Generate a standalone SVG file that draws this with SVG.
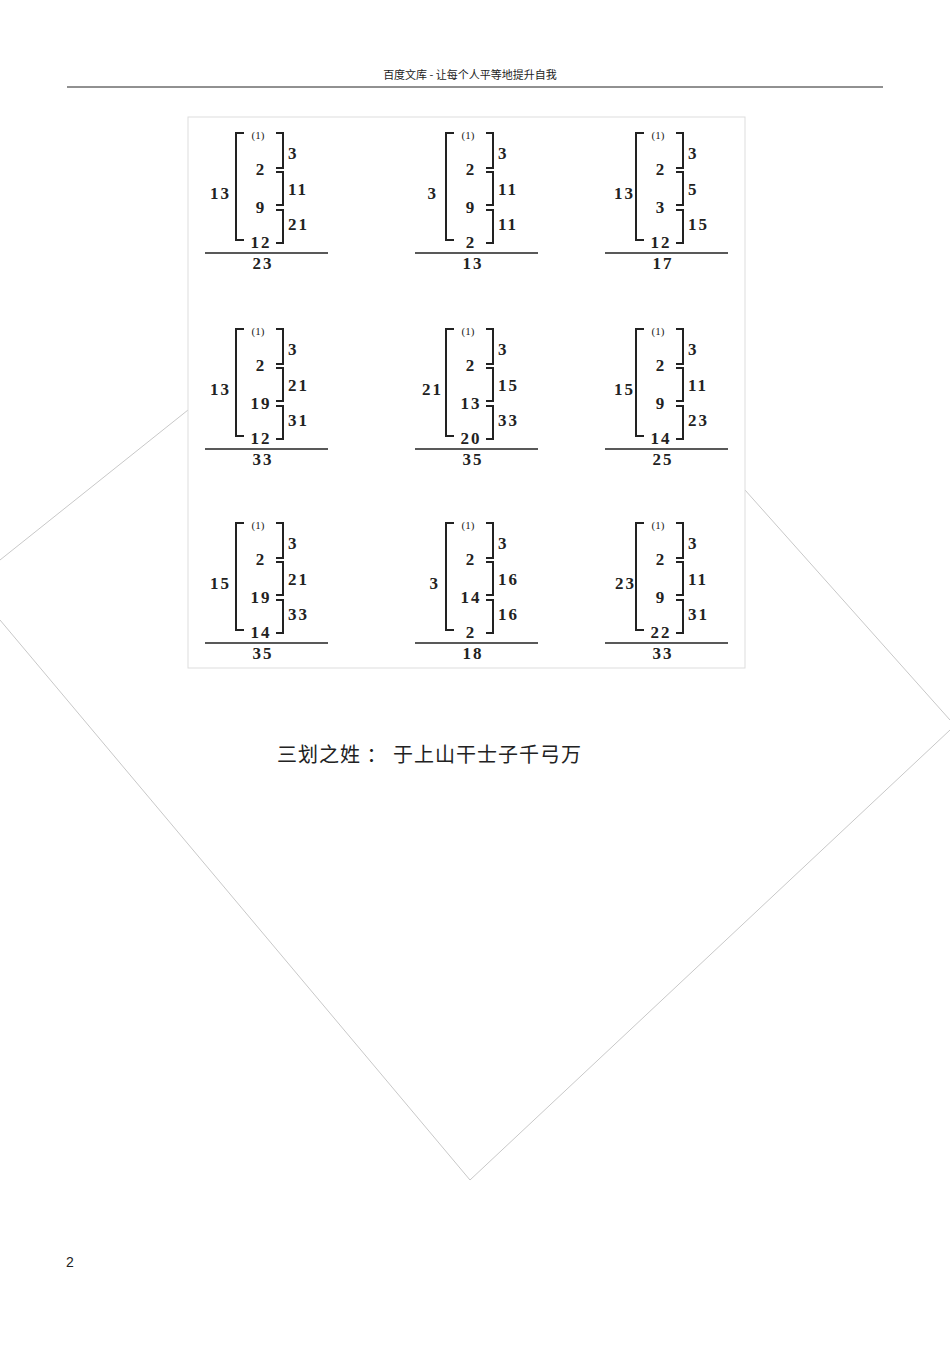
<svg xmlns="http://www.w3.org/2000/svg" width="950" height="1345" viewBox="0 0 950 1345">
<style>
.n{font-family:"Liberation Serif",serif;font-size:17px;fill:#222;font-weight:bold;letter-spacing:2px}
.s{font-family:"Liberation Serif",serif;font-size:11px;fill:#222}
.b{fill:none;stroke:#222;stroke-width:2}
.u{stroke:#222;stroke-width:1.5}
.d{fill:none;stroke:#c8c8c8;stroke-width:1}
.cjk{font-family:"Noto Sans CJK SC",sans-serif;fill:#222}
</style>
<rect width="950" height="1345" fill="#fff"/>
<g id="bg">
<polyline class="d" points="0,560 188,410"/>
<polyline class="d" points="0,620 470,1180 950,730"/>
<polyline class="d" points="745,490 950,720"/>
<rect x="188" y="117" width="557" height="551" fill="#fff" stroke="#ddd"/>
</g>
<g id="header">
<text x="470" y="79" text-anchor="middle" class="cjk" font-size="11">百度文库  - 让每个人平等地提升自我</text>
<line x1="67" y1="87" x2="883" y2="87" stroke="#222" stroke-width="1"/>
</g>
<defs>
<g id="frame">
<path class="b" d="M244,133 H236 V240 H244"/>
<path class="b" d="M276,133 H283 V168 H276 M276,172 H283 V205 H276 M276,210 H283 V243 H276"/>
<text class="s" x="258" y="139" text-anchor="middle">(1)</text>
<line class="u" x1="205" y1="253" x2="328" y2="253"/>
</g>
</defs>
<g id="cells">
<g id="c11"><use href="#frame"/><text class="n" x="231" y="199" text-anchor="end">13</text><text class="n" x="261" y="175" text-anchor="middle">2</text><text class="n" x="261" y="213" text-anchor="middle">9</text><text class="n" x="261" y="248" text-anchor="middle">12</text><text class="n" x="288" y="159">3</text><text class="n" x="288" y="195">11</text><text class="n" x="288" y="230">21</text><text class="n" x="263" y="269" text-anchor="middle">23</text></g>
<g id="c12" transform="translate(210,0)"><use href="#frame"/><text class="n" x="228" y="199" text-anchor="end">3</text><text class="n" x="261" y="175" text-anchor="middle">2</text><text class="n" x="261" y="213" text-anchor="middle">9</text><text class="n" x="261" y="248" text-anchor="middle">2</text><text class="n" x="288" y="159">3</text><text class="n" x="288" y="195">11</text><text class="n" x="288" y="230">11</text><text class="n" x="263" y="269" text-anchor="middle">13</text></g>
<g id="c13" transform="translate(400,0)"><use href="#frame"/><text class="n" x="235" y="199" text-anchor="end">13</text><text class="n" x="261" y="175" text-anchor="middle">2</text><text class="n" x="261" y="213" text-anchor="middle">3</text><text class="n" x="261" y="248" text-anchor="middle">12</text><text class="n" x="288" y="159">3</text><text class="n" x="288" y="195">5</text><text class="n" x="288" y="230">15</text><text class="n" x="263" y="269" text-anchor="middle">17</text></g>

<g id="c21" transform="translate(0,196)"><use href="#frame"/><text class="n" x="231" y="199" text-anchor="end">13</text><text class="n" x="261" y="175" text-anchor="middle">2</text><text class="n" x="261" y="213" text-anchor="middle">19</text><text class="n" x="261" y="248" text-anchor="middle">12</text><text class="n" x="288" y="159">3</text><text class="n" x="288" y="195">21</text><text class="n" x="288" y="230">31</text><text class="n" x="263" y="269" text-anchor="middle">33</text></g>
<g id="c22" transform="translate(210,196)"><use href="#frame"/><text class="n" x="233" y="199" text-anchor="end">21</text><text class="n" x="261" y="175" text-anchor="middle">2</text><text class="n" x="261" y="213" text-anchor="middle">13</text><text class="n" x="261" y="248" text-anchor="middle">20</text><text class="n" x="288" y="159">3</text><text class="n" x="288" y="195">15</text><text class="n" x="288" y="230">33</text><text class="n" x="263" y="269" text-anchor="middle">35</text></g>
<g id="c23" transform="translate(400,196)"><use href="#frame"/><text class="n" x="235" y="199" text-anchor="end">15</text><text class="n" x="261" y="175" text-anchor="middle">2</text><text class="n" x="261" y="213" text-anchor="middle">9</text><text class="n" x="261" y="248" text-anchor="middle">14</text><text class="n" x="288" y="159">3</text><text class="n" x="288" y="195">11</text><text class="n" x="288" y="230">23</text><text class="n" x="263" y="269" text-anchor="middle">25</text></g>

<g id="c31" transform="translate(0,390)"><use href="#frame"/><text class="n" x="231" y="199" text-anchor="end">15</text><text class="n" x="261" y="175" text-anchor="middle">2</text><text class="n" x="261" y="213" text-anchor="middle">19</text><text class="n" x="261" y="248" text-anchor="middle">14</text><text class="n" x="288" y="159">3</text><text class="n" x="288" y="195">21</text><text class="n" x="288" y="230">33</text><text class="n" x="263" y="269" text-anchor="middle">35</text></g>
<g id="c32" transform="translate(210,390)"><use href="#frame"/><text class="n" x="230" y="199" text-anchor="end">3</text><text class="n" x="261" y="175" text-anchor="middle">2</text><text class="n" x="261" y="213" text-anchor="middle">14</text><text class="n" x="261" y="248" text-anchor="middle">2</text><text class="n" x="288" y="159">3</text><text class="n" x="288" y="195">16</text><text class="n" x="288" y="230">16</text><text class="n" x="263" y="269" text-anchor="middle">18</text></g>
<g id="c33" transform="translate(400,390)"><use href="#frame"/><text class="n" x="236" y="199" text-anchor="end">23</text><text class="n" x="261" y="175" text-anchor="middle">2</text><text class="n" x="261" y="213" text-anchor="middle">9</text><text class="n" x="261" y="248" text-anchor="middle">22</text><text class="n" x="288" y="159">3</text><text class="n" x="288" y="195">11</text><text class="n" x="288" y="230">31</text><text class="n" x="263" y="269" text-anchor="middle">33</text></g>
</g>
<g id="caption"><text x="277" y="762" class="cjk" font-size="20" letter-spacing="1">三划之姓 ： 于上山干士子千弓万</text></g>
<g id="page"><text x="66" y="1267" font-family="Liberation Sans,sans-serif" font-size="14" fill="#222">2</text></g>
</svg>
